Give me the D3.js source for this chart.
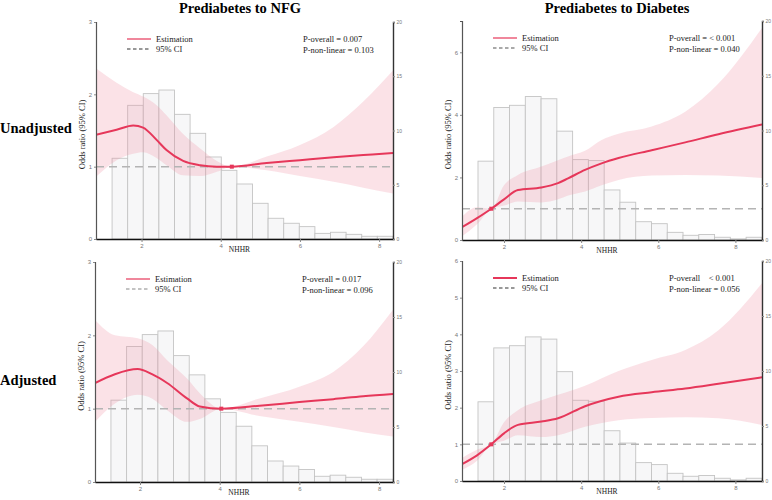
<!DOCTYPE html>
<html>
<head>
<meta charset="utf-8">
<script src="https://cdn.jsdelivr.net/npm/d3@7"></script>
<style>
  body { margin: 0; background: #fff; }
  svg { font-family: "Liberation Serif", "DejaVu Serif", serif; }
  .tick text { fill: #777; font-size: 6px; }
</style>
</head>
<body>
<svg id="chart" width="772" height="500"></svg>
<script>
const width = 772;
const height = 500;

// histogram heights (% of subjects)
const histNFG = [7.44, 12.32, 13.4, 13.73, 11.49, 9.74, 7.56, 6.33, 5.07, 3.29, 1.91, 1.45, 1.14, 0.52, 0.62, 0.43, 0.25, 0.25];
const histDM  = [7.2, 12.1, 12.3, 13.1, 12.9, 9.94, 7.34, 7.25, 4.57, 3.45, 1.67, 1.49, 0.7, 0.43, 0.5, 0.25, 0.1, 0.25];

// spline curves: NHHR, odds ratio, lower CI, upper CI
const nhhrNFGu = [0.85, 1.37, 1.79, 2.04, 2.38, 2.63, 3.05, 3.48, 3.9, 4.28, 5.16, 6.0, 6.85, 7.6, 8.35];
const orNFGu   = [1.44, 1.51, 1.57, 1.54, 1.37, 1.23, 1.08, 1.02, 1.0, 1.0, 1.05, 1.09, 1.13, 1.16, 1.19];
const loNFGu   = [0.86, 1.09, 1.18, 1.2, 1.12, 1.02, 0.88, 0.87, 0.93, 1.0, 0.95, 0.87, 0.79, 0.71, 0.63];
const hiNFGu   = [2.36, 2.16, 2.03, 1.97, 1.85, 1.71, 1.45, 1.25, 1.08, 1.0, 1.14, 1.3, 1.55, 1.9, 2.33];

const nhhrNFGa = [0.87, 1.37, 1.94, 2.3, 2.68, 3.18, 3.5, 4.04, 5.0, 6.0, 6.85, 7.6, 8.35];
const orNFGa   = [1.35, 1.47, 1.54, 1.47, 1.35, 1.14, 1.03, 1.0, 1.04, 1.09, 1.13, 1.17, 1.2];
const loNFGa   = [0.82, 1.07, 1.19, 1.14, 0.98, 0.82, 0.86, 1.0, 0.9, 0.82, 0.75, 0.68, 0.62];
const hiNFGa   = [2.21, 2.0, 1.96, 1.87, 1.66, 1.41, 1.21, 1.0, 1.14, 1.3, 1.5, 1.85, 2.35];

const nhhrDMu = [0.91, 1.3, 1.67, 2.0, 2.36, 2.97, 3.4, 3.66, 4.1, 4.53, 4.97, 5.83, 6.7, 7.56, 8.69];
const orDMu   = [0.41, 0.7, 1.0, 1.3, 1.6, 1.68, 1.82, 1.97, 2.24, 2.45, 2.62, 2.87, 3.12, 3.38, 3.69];
const loDMu   = [0.12, 0.5, 1.0, 1.1, 1.23, 1.2, 1.3, 1.42, 1.55, 1.75, 1.92, 2.06, 2.08, 2.06, 1.98];
const hiDMu   = [0.75, 1.05, 1.0, 1.75, 2.08, 2.35, 2.55, 2.67, 2.85, 3.2, 3.4, 3.63, 4.1, 5.0, 6.78];

const nhhrDMa = [0.91, 1.3, 1.67, 2.0, 2.36, 2.97, 3.4, 4.1, 4.97, 5.83, 6.7, 7.56, 8.69];
const orDMa   = [0.46, 0.7, 1.0, 1.3, 1.53, 1.62, 1.71, 2.04, 2.3, 2.42, 2.52, 2.65, 2.83];
const loDMa   = [0.3, 0.55, 1.0, 1.1, 1.25, 1.2, 1.25, 1.48, 1.66, 1.72, 1.74, 1.71, 1.53];
const hiDMa   = [0.63, 0.85, 1.0, 1.6, 1.93, 2.2, 2.35, 2.6, 3.0, 3.3, 3.57, 4.11, 5.39];

const colTitles = ["Prediabetes to NFG", "Prediabetes to Diabetes"];
const rowTitles = ["Unadjusted", "Adjusted"];

const red = "#e6375a";
const svg = d3.select("#chart");
const fmt = d3.format("d");

const panels = [
  {box: [96, 393, 22, 239], xd: [0.85, 8.35], yd: [0, 3], yt: [0, 1, 2, 3],
   hist: histNFG, b0: 1.256, bw: 0.394, x: nhhrNFGu, or: orNFGu, lo: loNFGu, hi: hiNFGu, ref: 4.28,
   p: ["P-overall = 0.007", "P-non-linear = 0.103"], dash: "#333"},
  {box: [462, 762, 21, 240], xd: [0.91, 8.69], yd: [0, 7], yt: [0, 2, 4, 6],
   hist: histDM, b0: 1.325, bw: 0.409, x: nhhrDMu, or: orDMu, lo: loDMu, hi: hiDMu, ref: 1.67,
   p: ["P-overall = < 0.001", "P-non-linear = 0.040"], dash: "#555"},
  {box: [95, 393, 262, 482], xd: [0.87, 8.35], yd: [0, 3], yt: [0, 1, 2, 3],
   hist: histNFG, b0: 1.27, bw: 0.393, x: nhhrNFGa, or: orNFGa, lo: loNFGa, hi: hiNFGa, ref: 4.04,
   p: ["P-overall = 0.017", "P-non-linear = 0.096"], dash: "#888"},
  {box: [462, 762, 261, 481], xd: [0.91, 8.69], yd: [0, 6], yt: [0, 1, 2, 3, 4, 5, 6],
   hist: histDM, b0: 1.325, bw: 0.409, x: nhhrDMa, or: orDMa, lo: loDMa, hi: hiDMa, ref: 1.67,
   p: ["P-overall    < 0.001", "P-non-linear = 0.056"], dash: "#333"}
];

panels.forEach(function(c, k) {
  const [x0, x1, y0, y1] = c.box;
  const x = d3.scaleLinear().domain(c.xd).range([x0, x1]);
  const y = d3.scaleLinear().domain(c.yd).range([y1, y0]);
  const yh = d3.scaleLinear().domain([0, 20]).range([y1, y0]);
  const g = svg.append("g");

  g.append("clipPath").attr("id", "clip" + k)
    .append("rect").attr("x", x0).attr("y", y0).attr("width", x1 - x0).attr("height", y1 - y0);
  const plot = g.append("g").attr("clip-path", `url(#clip${k})`);

  // histogram
  plot.selectAll("rect.bar")
    .data(c.hist)
    .join("rect")
    .attr("class", "bar")
    .attr("x", (d, i) => x(c.b0 + i * c.bw))
    .attr("width", x(c.b0 + c.bw) - x(c.b0))
    .attr("y", d => yh(d))
    .attr("height", d => y1 - yh(d))
    .attr("fill", "#f7f7f8")
    .attr("stroke", "#c4c4c4")
    .attr("stroke-width", 0.9);

  const pts = c.x.map((v, i) => ({x: v, or: c.or[i], lo: c.lo[i], hi: c.hi[i]}));

  // CI band
  plot.append("path")
    .datum(pts)
    .attr("d", d3.area().curve(d3.curveMonotoneX)
      .x(d => x(d.x)).y0(d => y(d.lo)).y1(d => y(d.hi)))
    .attr("fill", "#ef8aa0")
    .attr("fill-opacity", 0.25);

  // reference line OR = 1
  plot.append("line")
    .attr("x1", x0).attr("x2", x1).attr("y1", y(1)).attr("y2", y(1))
    .attr("stroke", "#b4b4b4").attr("stroke-width", 1.5).attr("stroke-dasharray", "8,5");

  plot.append("path")
    .datum(pts)
    .attr("d", d3.line().curve(d3.curveMonotoneX).x(d => x(d.x)).y(d => y(d.or)))
    .attr("fill", "none").attr("stroke", red).attr("stroke-width", 2);

  g.append("rect")
    .attr("x", x(c.ref) - 2).attr("y", y(1) - 2).attr("width", 4).attr("height", 4)
    .attr("fill", red);

  // axes
  const ax = g.append("g").attr("transform", `translate(0,${y1})`)
    .call(d3.axisBottom(x).tickValues([2, 4, 6, 8]).tickFormat(fmt).tickSize(3).tickSizeOuter(0));
  ax.select(".domain").attr("stroke", "#111").attr("stroke-width", 1.6);
  ax.selectAll(".tick line").attr("stroke", "#888");
  ax.selectAll(".tick text").attr("dy", "0.5em");

  const ay = g.append("g").attr("transform", `translate(${x0},0)`)
    .call(d3.axisLeft(y).tickValues(c.yt).tickFormat(fmt).tickSize(2).tickSizeOuter(2).tickPadding(2));
  ay.select(".domain").attr("stroke", "#555").attr("stroke-width", 1.2);
  ay.selectAll(".tick line").attr("stroke", "#888");

  const ar = g.append("g").attr("transform", `translate(${x1},0)`)
    .call(d3.axisRight(yh).tickValues([0, 5, 10, 15, 20]).tickFormat(fmt).tickSize(2).tickSizeOuter(2).tickPadding(1.5));
  ar.select(".domain").attr("stroke", "#333").attr("stroke-width", 1.4);
  ar.selectAll(".tick line").attr("stroke", "#888");
  ar.selectAll(".tick text").style("font-size", "5px");

  // labels
  g.append("text")
    .attr("transform", `translate(${x0 - 11},${(y0 + y1) / 2 + 4}) rotate(-90)`)
    .attr("text-anchor", "middle").attr("font-size", 8.5).attr("fill", "#222")
    .text("Odds ratio (95% CI)");
  g.append("text")
    .attr("x", (x0 + x1) / 2 - 5).attr("y", y1 + 13)
    .attr("text-anchor", "middle").attr("font-size", 7.5).attr("fill", "#222")
    .text("NHHR");

  // legend
  const lx = x0 + 31, ly = y0 + 17;
  g.append("line").attr("x1", lx).attr("x2", lx + 24).attr("y1", ly).attr("y2", ly)
    .attr("stroke", red).attr("stroke-width", k === 3 ? 2 : 1.2);
  g.append("line").attr("x1", lx).attr("x2", lx + 24).attr("y1", ly + 10).attr("y2", ly + 10)
    .attr("stroke", c.dash).attr("stroke-width", 1.2).attr("stroke-dasharray", "3.5,2.5");
  g.append("text").attr("x", lx + 29).attr("y", ly + 3).attr("font-size", 8.5).attr("fill", "#222").text("Estimation");
  g.append("text").attr("x", lx + 29).attr("y", ly + 13).attr("font-size", 8.5).attr("fill", "#222").text("95% CI");

  g.selectAll("text.p")
    .data(c.p)
    .join("text")
    .attr("class", "p")
    .attr("x", x0 + 207).attr("y", (d, i) => ly + 3 + i * 10.5)
    .attr("font-size", 8.5).attr("fill", "#222")
    .attr("xml:space", "preserve")
    .text(d => d);
});

svg.selectAll("text.col")
  .data(colTitles)
  .join("text")
  .attr("class", "col")
  .attr("x", (d, i) => [240, 617][i]).attr("y", 13)
  .attr("text-anchor", "middle").attr("font-size", 14.5).attr("font-weight", "bold")
  .text(d => d);

svg.selectAll("text.row")
  .data(rowTitles)
  .join("text")
  .attr("class", "row")
  .attr("x", 0).attr("y", (d, i) => [133, 385][i])
  .attr("font-size", 14.5).attr("font-weight", "bold")
  .text(d => d);
</script>
</body>
</html>
